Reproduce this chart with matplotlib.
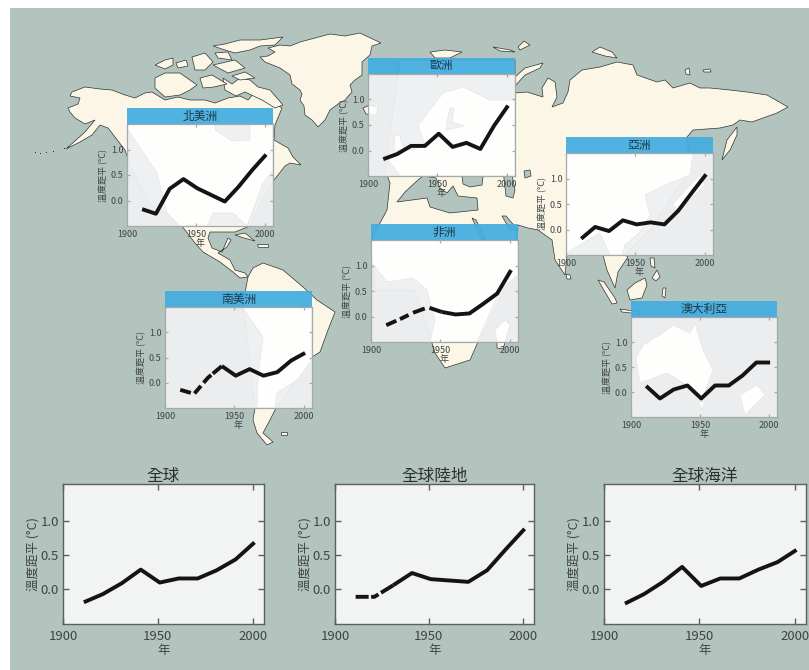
import matplotlib
matplotlib.use('Agg')
import matplotlib.pyplot as plt
from matplotlib.patches import Polygon, Rectangle

plt.rcParams['font.family'] = ['Noto Sans CJK TC', 'DejaVu Sans']
plt.rcParams['lines.scale_dashes'] = False

W, H = 809, 670
SEA = '#b3c4bf'
LAND = '#fbf6e6'
COAST = '#2e3432'
HEADER = '#43ade0'
TEXT = '#3f4444'

# decade values, anomaly in deg C
years = [1911, 1921, 1931, 1941, 1951, 1961, 1971, 1981, 1991, 2001]
north_america = [-0.17, -0.26, 0.23, 0.42, 0.24, 0.11, -0.02, 0.27, 0.60, 0.90]
europe = [-0.17, -0.07, 0.09, 0.09, 0.33, 0.07, 0.15, 0.03, 0.49, 0.88]
asia = [-0.18, 0.05, -0.03, 0.18, 0.10, 0.14, 0.10, 0.37, 0.73, 1.08]
africa = [-0.17, -0.05, 0.08, 0.18, 0.09, 0.04, 0.06, 0.25, 0.45, 0.91]
south_america = [-0.14, -0.22, 0.10, 0.33, 0.14, 0.27, 0.14, 0.21, 0.44, 0.59]
australia = [0.12, -0.13, 0.05, 0.13, -0.13, 0.13, 0.13, 0.33, 0.59, 0.59]
global_all = [-0.20, -0.08, 0.08, 0.28, 0.09, 0.15, 0.15, 0.27, 0.43, 0.68]
global_land = [-0.12, -0.12, 0.05, 0.23, 0.14, 0.12, 0.10, 0.27, 0.58, 0.88]
global_ocean = [-0.22, -0.08, 0.10, 0.32, 0.04, 0.15, 0.15, 0.28, 0.39, 0.57]

x_ticks = [1900, 1950, 2000]
y_ticks = [0.0, 0.5, 1.0]

# name, values, box in pixels (left, top, right, bottom)
insets = [
    ('北美洲', north_america, (127, 124, 273, 226)),
    ('歐洲', europe, (368, 74, 515, 176)),
    ('亞洲', asia, (566, 153, 713, 255)),
    ('非洲', africa, (371, 240, 518, 342)),
    ('南美洲', south_america, (165, 307, 312, 408)),
    ('澳大利亞', australia, (631, 317, 777, 417)),
]
bottoms = [
    ('全球', global_all, (63, 484, 264, 624)),
    ('全球陸地', global_land, (335, 484, 534, 624)),
    ('全球海洋', global_ocean, (604, 484, 806, 624)),
]

# early decades with poor coverage: how many points, dash pattern in px
dashed = {
    '非洲': (5, [11, 4, 9.5, 5, 12.5, 5, 200, 0]),
    '南美洲': (4, [11, 4, 10, 4, 11, 2, 200, 0]),
    '全球陸地': (3, [13, 2.5, 8, 3, 200, 0]),
}

# background map, traced in pixels
land_shapes = [
    # north america
    [(68, 108), (78, 104), (80, 98), (70, 96), (72, 92), (85, 87), (100, 89), (112, 90), (125, 95), (135, 98), (145, 93),
     (152, 92), (165, 100), (178, 97), (190, 100), (205, 100), (215, 103), (228, 98), (240, 96), (248, 100), (255, 92),
     (262, 100), (270, 100), (282, 108), (275, 125), (274, 140), (288, 148), (293, 157), (301, 165), (290, 163),
     (285, 166), (278, 175), (274, 180), (262, 200), (255, 215), (250, 226), (235, 232), (222, 232), (210, 232),
     (208, 238), (212, 248), (222, 252), (228, 238), (231, 240), (227, 247), (218, 253), (230, 260), (235, 270),
     (245, 273), (248, 277), (240, 278), (233, 272), (220, 262), (203, 252), (195, 243), (185, 230), (177, 220),
     (150, 205), (132, 170), (125, 150), (108, 128), (100, 125), (92, 135), (80, 142), (66, 149), (85, 132), (95, 120),
     (85, 124), (75, 118), (70, 112)],
    # greenland
    [(280, 45), (290, 46), (300, 42), (315, 38), (330, 34), (345, 36), (360, 33), (381, 43), (372, 46), (370, 55),
     (362, 62), (362, 75), (355, 80), (350, 85), (352, 92), (345, 100), (338, 104), (330, 110), (325, 120), (318, 127),
     (312, 120), (305, 115), (304, 106), (300, 100), (302, 94), (300, 90), (292, 84), (290, 75), (280, 68), (265, 62),
     (260, 57), (268, 56), (275, 52), (268, 48)],
    # arctic canada
    [(223, 78), (232, 84), (240, 78), (250, 80), (258, 87), (270, 90), (283, 105), (275, 108), (262, 100), (245, 92),
     (236, 96), (225, 90)],
    [(213, 46), (225, 44), (240, 40), (260, 40), (283, 37), (275, 45), (260, 46), (250, 50), (235, 53), (225, 50)],
    [(215, 53), (228, 52), (232, 60), (218, 58)],
    [(155, 78), (165, 73), (180, 73), (197, 85), (190, 90), (180, 95), (165, 97), (155, 88)],
    [(155, 65), (165, 60), (173, 58), (173, 65), (165, 69)],
    [(192, 57), (205, 53), (213, 62), (205, 70), (195, 70)],
    [(200, 78), (212, 75), (227, 84), (214, 87), (203, 88)],
    [(213, 65), (235, 60), (245, 68), (228, 73)],
    [(232, 76), (245, 72), (255, 78), (240, 80)],
    [(176, 63), (186, 60), (188, 66), (178, 68)],
    # south america
    [(248, 277), (253, 268), (263, 263), (283, 270), (303, 287), (317, 300), (335, 312), (328, 330), (320, 352),
     (312, 357), (275, 410), (270, 420), (263, 433), (273, 442), (267, 445), (257, 433), (253, 420), (255, 408),
     (243, 303)],
    # eurasia and africa
    [(385, 170), (400, 60), (515, 60), (515, 93), (527, 92), (543, 97), (542, 88), (548, 78), (555, 82), (557, 97),
     (552, 107), (563, 103), (568, 92), (570, 80), (582, 70), (600, 67), (617, 62), (633, 65), (637, 75), (657, 82),
     (665, 80), (673, 88), (690, 83), (700, 88), (710, 88), (730, 90), (747, 92), (767, 95), (788, 107), (777, 113),
     (763, 118), (752, 122), (740, 120), (733, 125), (720, 128), (693, 130), (687, 137), (690, 170), (650, 230),
     (625, 255), (628, 257), (618, 272), (615, 288), (607, 270), (603, 255), (567, 255), (565, 275), (555, 260),
     (552, 240), (538, 230), (528, 228), (518, 225), (515, 250), (510, 280), (490, 320), (478, 342), (470, 360),
     (445, 368), (435, 353), (425, 320), (415, 290), (375, 290), (372, 237), (380, 223), (387, 210), (390, 183)],
    # islands
    [(722, 160), (727, 140), (737, 127), (737, 135), (730, 150)],
    [(515, 77), (525, 68), (543, 63), (540, 68), (525, 75), (515, 86)],
    [(592, 52), (600, 47), (612, 52), (617, 58), (605, 56)],
    [(430, 52), (445, 50), (462, 52), (450, 58), (435, 58)],
    [(493, 47), (510, 50), (515, 52), (500, 51)],
    [(518, 47), (524, 41), (530, 45), (520, 50)],
    [(685, 70), (689, 68), (690, 75), (686, 74)],
    [(703, 70), (710, 69), (711, 72), (704, 72)],
    [(598, 280), (604, 282), (615, 298), (617, 303), (612, 304)],
    [(627, 290), (635, 283), (645, 278), (647, 285), (642, 298), (630, 300)],
    [(620, 309), (640, 312), (640, 314), (622, 312)],
    [(652, 278), (657, 270), (660, 277), (656, 281)],
    [(650, 258), (654, 258), (655, 268), (651, 266)],
    [(663, 288), (666, 288), (665, 298), (662, 296)],
    [(235, 235), (245, 233), (255, 241), (244, 238)],
    [(257, 244), (268, 244), (268, 247), (258, 247)],
    [(566, 274), (570, 275), (571, 279), (567, 279)],
    [(363, 108), (370, 105), (378, 107), (378, 115), (366, 114)],
    [(281, 432), (287, 432), (287, 435), (281, 435)],
    [(497, 330), (508, 320), (510, 326), (503, 349), (497, 348)],
]
sea_shapes = [
    # mediterranean
    [(397, 202), (405, 192), (418, 180), (423, 176), (436, 178), (440, 188), (447, 193), (453, 186), (458, 196),
     (477, 198), (478, 210), (450, 213), (430, 207), (427, 198)],
    # black sea
    [(462, 176), (483, 176), (482, 185), (470, 187), (463, 184)],
    # caspian
    [(503, 170), (511, 170), (515, 190), (513, 198), (506, 196)],
    # aral
    [(524, 171), (530, 170), (531, 176), (525, 178)],
    # red sea
    [(472, 218), (476, 220), (486, 240), (482, 240)],
    # persian gulf
    [(502, 216), (506, 216), (518, 230), (510, 230)],
]

# white coasts faintly seen inside the inset boxes
inset_land = {
    '北美洲': [[(127, 124), (215, 124), (215, 130), (232, 141), (250, 140), (250, 124), (273, 124), (273, 170), (263, 183),
              (247, 226), (233, 213), (213, 213), (207, 226), (180, 226), (167, 213), (157, 173), (128, 130)]],
    '歐洲': [[(400, 176), (388, 160), (400, 150), (412, 150), (425, 145), (418, 125), (443, 93), (463, 87), (490, 100),
             (515, 100), (515, 176)], [(395, 135), (400, 136), (403, 150), (394, 150)], [(368, 105), (378, 107), (376, 115), (368, 114)]],
    '亞洲': [[(566, 153), (693, 153), (690, 175), (665, 185), (645, 195), (650, 215), (640, 232), (625, 245), (622, 255),
             (610, 255), (600, 233), (566, 253)], [(690, 185), (700, 175), (705, 185), (680, 210), (672, 205)]],
    '非洲': [[(371, 240), (518, 240), (518, 275), (500, 290), (487, 320), (477, 342), (430, 342), (435, 320), (427, 290),
             (413, 278), (387, 282), (372, 263)], [(495, 330), (505, 320), (510, 325), (505, 342), (497, 342)]],
    '南美洲': [[(242, 307), (263, 337), (258, 377), (257, 408), (275, 408), (277, 393), (297, 380), (312, 360), (312, 307)]],
    '澳大利亞': [[(636, 358), (643, 345), (663, 333), (673, 325), (690, 333), (695, 323), (703, 350), (713, 370), (703, 397),
               (687, 385), (667, 373), (640, 383)], [(698, 402), (705, 402), (702, 409)],
              [(740, 395), (757, 385), (765, 395), (745, 415)]],
}
inset_sea = {
    '歐洲': [[(447, 122), (450, 108), (454, 108), (452, 122), (464, 126), (446, 130)]],
}

fig = plt.figure(figsize=(W / 100, H / 100), dpi=100)
fig.patch.set_facecolor('white')

bg = fig.add_axes([0, 0, 1, 1])
bg.set_xlim(0, W)
bg.set_ylim(H, 0)
bg.axis('off')
bg.add_patch(Rectangle((10, 8), W - 10, H - 8, fc=SEA, ec='none'))
for pts in land_shapes:
    bg.add_patch(Polygon(pts, fc=LAND, ec=COAST, lw=0.5, zorder=2))
for pts in sea_shapes:
    bg.add_patch(Polygon(pts, fc=SEA, ec=COAST, lw=0.5, zorder=3))
# hawaii
for hx, hy in [(35, 152), (40, 153), (46, 152), (53, 151), (64, 148), (68, 146)]:
    bg.add_patch(Rectangle((hx, hy), 1.5, 1, fc=COAST, ec='none', zorder=3))


def box_axes(box):
    l, t, r, b = box
    return fig.add_axes([l / W, 1 - b / H, (r - l) / W, (b - t) / H])


def draw_series(ax, name, values, lw):
    n, pattern = dashed.get(name, (0, None))
    if n:
        pts = [p * 0.72 for p in pattern]
        ax.plot(years[:n], values[:n], color='#141414', lw=lw, ls=(0, pts), dash_capstyle='butt',
                dash_joinstyle='round', zorder=4)
        ax.plot(years[n - 1:], values[n - 1:], color='#141414', lw=lw, solid_capstyle='butt',
                solid_joinstyle='round', zorder=4)
    else:
        ax.plot(years, values, color='#141414', lw=lw, solid_capstyle='butt', solid_joinstyle='round', zorder=4)


def style_axes(ax, ylim, size, label_size, spine, tick_len, width, xpad, ypad, labelpad_x, labelpad_y):
    ax.set_xlim(1900, 2006)
    ax.set_ylim(*ylim)
    ax.set_xticks(x_ticks)
    ax.set_yticks(y_ticks)
    ax.set_yticklabels(['%.1f' % v for v in y_ticks])
    ax.tick_params(axis='x', direction='in', top=True, length=tick_len, width=width, color=spine,
                   labelsize=size, labelcolor=TEXT, pad=xpad)
    ax.tick_params(axis='y', direction='in', right=True, length=tick_len, width=width, color=spine,
                   labelsize=size, labelcolor=TEXT, pad=ypad)
    ax.set_xlabel('年', fontsize=label_size, color=TEXT, labelpad=labelpad_x)
    ax.set_ylabel('溫度距平 (°C)', fontsize=label_size, color=TEXT, labelpad=labelpad_y)
    for s in ax.spines.values():
        s.set_color(spine)
        s.set_linewidth(width)


for name, values, box in insets:
    l, t, r, b = box
    bg.add_patch(Rectangle((l, t), r - l, b - t, fc='#eff0f2', ec='none', alpha=0.95, zorder=5))
    clip = Rectangle((l, t), r - l, b - t, transform=bg.transData)
    for pts in inset_land[name]:
        p = Polygon(pts, fc='#fefefc', ec='#e4e6e6', lw=0.5, zorder=6)
        bg.add_patch(p)
        p.set_clip_path(clip)
    for pts in inset_sea.get(name, []):
        p = Polygon(pts, fc='#eff0f2', ec='#e4e6e6', lw=0.5, zorder=7)
        bg.add_patch(p)
        p.set_clip_path(clip)
    bg.add_patch(Rectangle((l, t - 16), r - l, 15.5, fc=HEADER, ec='none', alpha=0.93, zorder=5))
    bg.text((l + r) / 2, t - 8, name, fontsize=8.5, color='#1d3a4a', ha='center', va='center', zorder=8)

    ax = box_axes(box)
    ax.patch.set_visible(False)
    draw_series(ax, name, values, 2.8)
    style_axes(ax, (-0.5, 1.5), 6.5, 6.5, '#a4aaaa', 2.5, 0.9, 3, 2.5, 0, 2)

for name, values, box in bottoms:
    ax = box_axes(box)
    ax.set_facecolor('#f2f3f3')
    draw_series(ax, name, values, 2.8)
    style_axes(ax, (-0.52, 1.54), 9.5, 9, '#5c6060', 4, 1.0, 4, 3, 1, 1)
    ax.set_title(name, fontsize=12, color='#2b2f2f', pad=2)

fig.savefig('out.png', dpi=100, facecolor='white')
